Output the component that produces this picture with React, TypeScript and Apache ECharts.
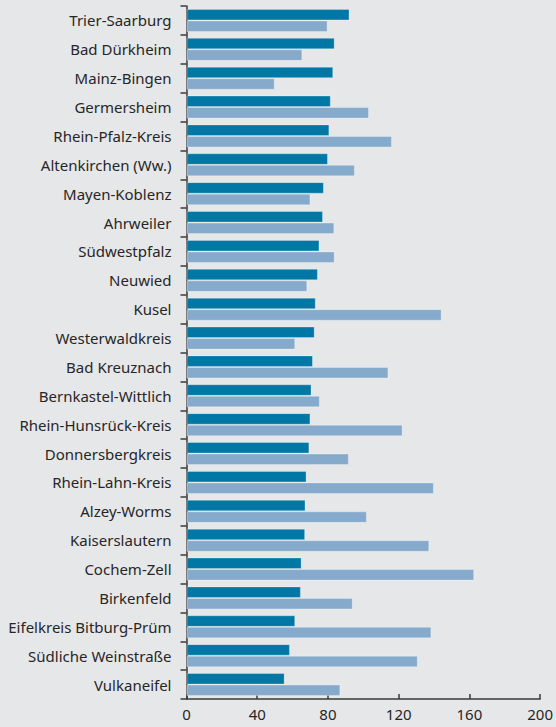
import React, { useEffect, useRef } from "react";
import * as echarts from "echarts";

const categories = [
  "Trier-Saarburg",
  "Bad Dürkheim",
  "Mainz-Bingen",
  "Germersheim",
  "Rhein-Pfalz-Kreis",
  "Altenkirchen (Ww.)",
  "Mayen-Koblenz",
  "Ahrweiler",
  "Südwestpfalz",
  "Neuwied",
  "Kusel",
  "Westerwaldkreis",
  "Bad Kreuznach",
  "Bernkastel-Wittlich",
  "Rhein-Hunsrück-Kreis",
  "Donnersbergkreis",
  "Rhein-Lahn-Kreis",
  "Alzey-Worms",
  "Kaiserslautern",
  "Cochem-Zell",
  "Birkenfeld",
  "Eifelkreis Bitburg-Prüm",
  "Südliche Weinstraße",
  "Vulkaneifel",
];

const darkValues = [
  92.2, 83.8, 83.0, 81.6, 80.8, 80.0, 77.7, 77.2, 75.2, 74.3, 73.1, 72.5,
  71.5, 70.7, 70.1, 69.5, 67.9, 67.3, 67.1, 65.1, 64.7, 61.5, 58.5, 55.5,
];

const lightValues = [
  79.8, 65.5, 49.9, 103.2, 116.2, 95.2, 70.1, 83.6, 83.8, 68.3, 144.3, 61.5,
  114.2, 75.4, 122.2, 91.8, 139.9, 102.0, 137.3, 162.7, 94.0, 138.5, 130.8,
  87.0,
];

const xTicks = [0, 40, 80, 120, 160, 200];

export default function App() {
  const ref = useRef<HTMLDivElement>(null);
  useEffect(() => {
    if (!ref.current) return;
    const chart = echarts.init(ref.current, null, { renderer: "svg" });
    const font = "Noto Sans";
    chart.setOption({
      animation: false,
      backgroundColor: "#E6E7E9",
      grid: { left: 186.5, right: 12.7, top: 6, bottom: 28, containLabel: false },
      xAxis: {
        type: "value",
        min: xTicks[0],
        max: xTicks[xTicks.length - 1],
        interval: 40,
        splitLine: { show: false },
        axisLine: { show: true, lineStyle: { color: "#3a3a3a", width: 1.5 } },
        axisTick: { show: true, inside: true, length: 5, lineStyle: { color: "#3a3a3a", width: 1.5 } },
        axisLabel: { color: "#262626", fontFamily: font, fontSize: 15, margin: 7 },
      },
      yAxis: {
        type: "category",
        data: categories,
        inverse: true,
        axisLine: { show: true, lineStyle: { color: "#3a3a3a", width: 1.5 } },
        axisTick: { show: true, length: 6, lineStyle: { color: "#3a3a3a", width: 1.5 } },
        axisLabel: { color: "#262626", fontFamily: font, fontSize: 15, margin: 15 },
      },
      series: [
        {
          type: "bar",
          data: darkValues,
          barGap: "0%",
          barCategoryGap: "20%",
          itemStyle: { color: "#0077A4", borderColor: "rgba(255,255,255,0.3)", borderWidth: 1 },
        },
        {
          type: "bar",
          data: lightValues,
          itemStyle: { color: "#85AACB", borderColor: "rgba(255,255,255,0.3)", borderWidth: 1 },
        },
      ],
    });
    return () => chart.dispose();
  }, []);
  return <div ref={ref} style={{ width: 556, height: 727, position: "absolute", left: 0, top: 0 }} />;
}
